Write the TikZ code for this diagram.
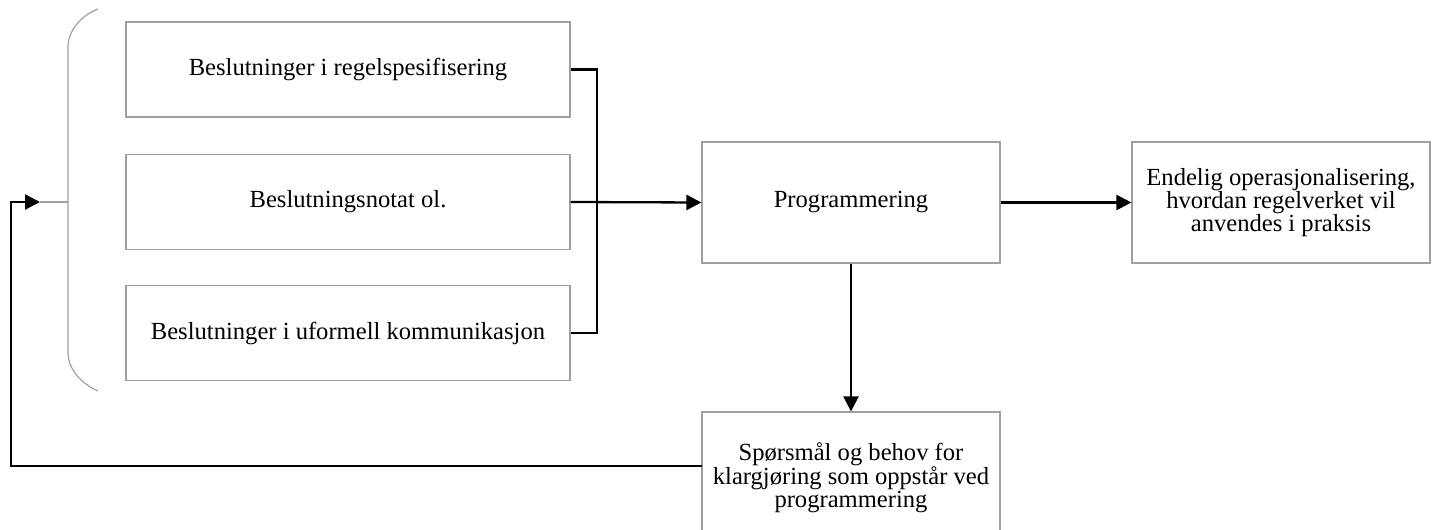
\documentclass[tikz,border=0pt]{standalone}
\usepackage{fontspec}
\setmainfont{Liberation Serif}
\usetikzlibrary{arrows.meta}
\definecolor{boxgray}{HTML}{A0A0A0}
\newcommand\boxfont{\fontsize{12.3pt}{11.7pt}\selectfont}
\tikzset{
  box/.style={draw=boxgray, line width=0.6pt, inner sep=0pt, align=center, font=\boxfont},
  conn/.style={line width=1.15pt, draw=black},
  arr/.style={conn, -{Triangle[length=7.5pt,width=7.5pt]}},
  bracestyle/.style={draw=boxgray, line width=0.6pt}
}
\begin{document}
\begin{tikzpicture}[x=0.5pt,y=-0.5pt]
\useasboundingbox (0,0) rectangle (1435,530);
\clip (0,0) rectangle (1435,530);
% boxes
\node[box, minimum width=222pt, minimum height=47.5pt] (b1) at (348,69.5) {Beslutninger i regelspesifisering};
\node[box, minimum width=222pt, minimum height=47.5pt] (b2) at (348,202) {Beslutningsnotat ol.};
\node[box, minimum width=222pt, minimum height=47.5pt] (b3) at (348,333) {Beslutninger i uformell kommunikasjon};
\node[box, minimum width=149pt, minimum height=60.5pt] (prog) at (851,202.5) {Programmering};
\node[box, minimum width=149pt, minimum height=60.5pt] (res) at (1281,202.5) {Endelig operasjonalisering,\\hvordan regelverket vil\\anvendes i praksis};
\node[box, minimum width=149pt, minimum height=66pt] (bot) at (851,478) {Spørsmål og behov for\\klargjøring som oppstår ved\\programmering};
% brace
\coordinate (bmid) at (68,202);
\coordinate (btip) at (40,202);
\draw[bracestyle] (98,9) .. controls (82,15) and (68,30) .. (68,47) -- (68,352) .. controls (68,370) and (82,384) .. (98,391);
\draw[bracestyle] (btip) -- (bmid);
% connectors
\coordinate (jn) at (597,202);
\draw[conn] (b1.east) -| (jn) |- (b3.east);
\draw[arr] (b2.east) -- (prog.west);
\draw[arr] (prog.east) -- (res.west);
\draw[arr] (prog.south) -- (bot.north);
\coordinate (fb) at (702,466);
\coordinate (fbl) at (11,466);
\draw[arr] (fb) -- (fbl) |- (btip);
\end{tikzpicture}
\end{document}
